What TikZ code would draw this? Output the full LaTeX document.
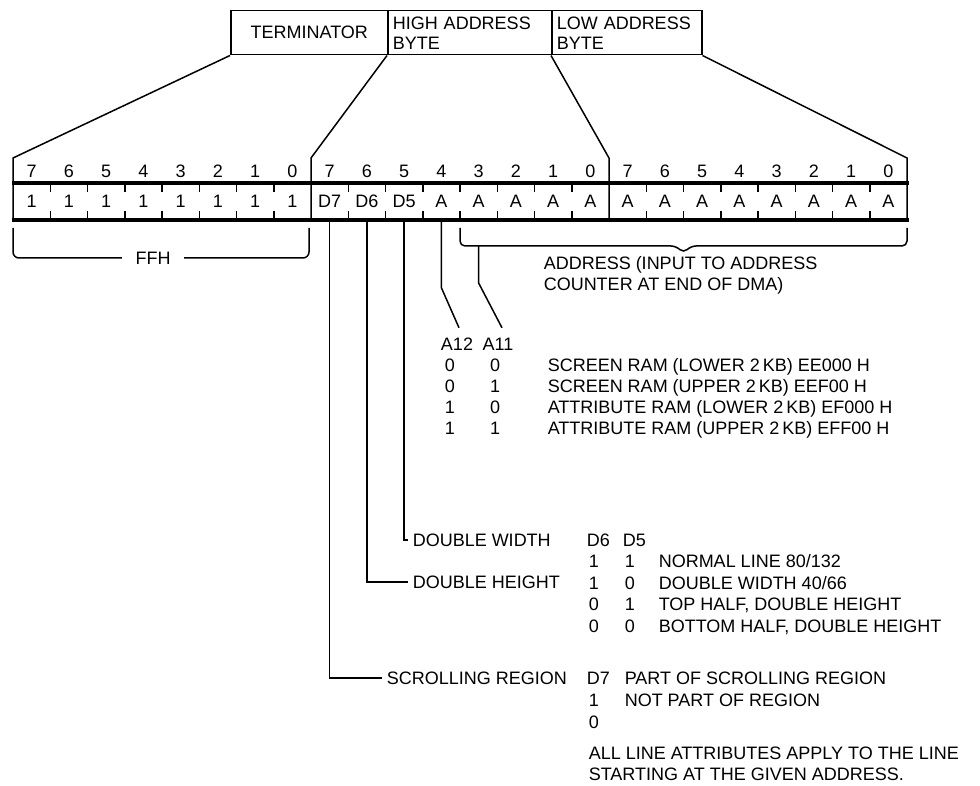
\documentclass[tikz,border=0pt]{standalone}
\usepackage{fontspec}
\setmainfont{Liberation Sans}
\usetikzlibrary{calc}

\begin{document}
\begin{tikzpicture}[
    x=1pt, y=-1pt,
    line width=1.5pt,
    every node/.style={font=\fontsize{18}{20}\selectfont, inner sep=0pt},
    txt/.style={text height=12.9pt, text depth=0pt},
    lbl/.style={txt, anchor=west},
    bytebox/.style={rectangle, draw, anchor=north west, minimum height=44pt},
    bitcell/.style={txt, minimum width=37.25pt, minimum height=37pt},
    border/.style={line width=3.2pt}
]

\useasboundingbox (0,0) rectangle (980,786);

% Byte boxes (top)
\node[bytebox, minimum width=157pt] (term) at (230,10) {TERMINATOR};
\node[bytebox, text width=154pt, inner xsep=5pt, align=left] (hab) at (387,10) {HIGH ADDRESS\\BYTE};
\node[bytebox, text width=140pt, inner xsep=5pt, align=left] (lab) at (551,10) {LOW ADDRESS\\BYTE};

% Fan out to the bit row
\coordinate (fa) at (13,158);
\coordinate (fb) at (311,158);
\coordinate (fc) at (609,158);
\coordinate (fd) at (907,158);
\draw (term.south west) -- (fa) -- (13,221.5);
\draw (hab.south west) -- (fb) -- (311,220);
\draw (lab.south west) -- (fc) -- (609,220);
\draw (lab.south east) -- (fd) -- (907,221.5);

% Bit numbers
\foreach \n [count=\i] in {7,6,5,4,3,2,1,0,7,6,5,4,3,2,1,0,7,6,5,4,3,2,1,0}
    \node[txt] (n\i) at ({13+(\i-0.5)*37.25},171) {\n};

% Bit cells
\foreach \v [count=\i] in {1,1,1,1,1,1,1,1,D7,D6,D5,A,A,A,A,A,A,A,A,A,A,A,A,A}
    \node[bitcell] (b\i) at ({13+(\i-0.5)*37.25},201.5) {\v};

\draw[border] (11.5,183) -- (908.5,183);
\draw[border] (11.5,220) -- (908.5,220);
\foreach \o in {0,8,16}
    \foreach \k in {1,...,7} {
        \draw ({13+(\o+\k)*37.25},183) -- ++(0,9);
        \draw ({13+(\o+\k)*37.25},220) -- ++(0,-9);
    }

% FFH brace
\node[txt] (ffh) at (153,258) {FFH};
\draw[rounded corners=6pt] (13,228) -- (13,258) -- ([xshift=-13pt]ffh.west);
\draw[rounded corners=6pt] ([xshift=13pt]ffh.east) -- (309,258) -- (309,228);

% Address brace
\coordinate (adrline) at (683.5,246);
\coordinate (adrtip) at (683.5,253);
\draw[rounded corners=5pt] (460,228) -- (460,246) -- (676,246) -- (adrtip) -- (691,246) -- (907,246) -- (907,228);
\node[lbl] (adr1) at (543,263) {ADDRESS (INPUT TO ADDRESS};
\node[lbl] (adr2) at (543,284) {COUNTER AT END OF DMA)};

% Address select bits
\node[txt] (a12) at (457,344) {A12};
\node[txt] (a11) at (498,344) {A11};
\draw (b12.south) -- ++(0,67) -- ([xshift=2pt,yshift=9pt]a12.north);
\draw (b13 |- adrline) -- ++(0,37) -- ([xshift=4pt,yshift=9pt]a11.north);

\foreach \p/\q/\t [count=\r] in {0/0/{SCREEN RAM (LOWER 2\,KB) EE000 H}, 0/1/{SCREEN RAM (UPPER 2\,KB) EEF00 H},
        1/0/{ATTRIBUTE RAM (LOWER 2\,KB) EF000 H}, 1/1/{ATTRIBUTE RAM (UPPER 2\,KB) EFF00 H}} {
    \node[txt] (ap\r) at (450,{344+21*\r}) {\p};
    \node[txt] (aq\r) at (495,{344+21*\r}) {\q};
    \node[lbl] (at\r) at (547,{344+21*\r}) {\t};
}

% Line attribute bits
\node[lbl, inner xsep=4pt] (dw) at (408,540) {DOUBLE WIDTH};
\node[lbl, inner xsep=4pt] (dh) at (408,582) {DOUBLE HEIGHT};
\node[lbl, inner xsep=4pt] (sr) at (382,678) {SCROLLING REGION};
\draw (b11.south) |- (dw.west);
\draw (b10.south) |- (dh.west);
\draw (b9.south) |- (sr.west);

\node[lbl] (hd6) at (586,540) {D6};
\node[lbl] (hd5) at (622,540) {D5};
\foreach \p/\q/\t [count=\r] in {1/1/{NORMAL LINE 80/132}, 1/0/{DOUBLE WIDTH 40/66},
        0/1/{TOP HALF, DOUBLE HEIGHT}, 0/0/{BOTTOM HALF, DOUBLE HEIGHT}} {
    \node[lbl] (dp\r) at (588,{540+21.5*\r}) {\p};
    \node[lbl] (dq\r) at (624,{540+21.5*\r}) {\q};
    \node[lbl] (dt\r) at (658,{540+21.5*\r}) {\t};
}

% Scrolling region
\node[lbl] (sd7) at (586,678) {D7};
\node[lbl] (st1) at (624,678) {PART OF SCROLLING REGION};
\node[lbl] (s1) at (588,700) {1};
\node[lbl] (st2) at (624,700) {NOT PART OF REGION};
\node[lbl] (s0) at (588,722) {0};
\node[lbl] (note1) at (588,753) {ALL LINE ATTRIBUTES APPLY TO THE LINE};
\node[lbl] (note2) at (588,774) {STARTING AT THE GIVEN ADDRESS.};

\end{tikzpicture}
\end{document}
